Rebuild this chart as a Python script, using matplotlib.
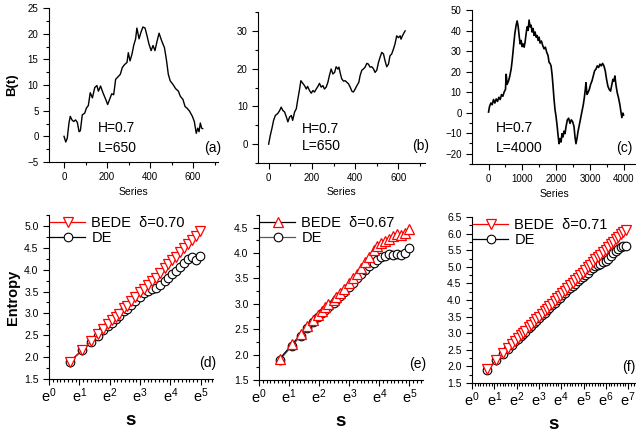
import numpy as np
import matplotlib
matplotlib.use("Agg")
import matplotlib.pyplot as plt
from matplotlib.ticker import MultipleLocator, LogLocator, FuncFormatter, NullFormatter

# ---- top row: fBm series (index, value) ----
series_a = [(0, 0.0), (8, -1.1), (15, -0.4), (23, 2.6), (29, 3.9), (37, 3.2), (45, 2.9), (54, 3.2),
            (62, 2.7), (70, 0.9), (76, 1.1), (85, 4.2), (96, 4.5), (104, 5.5), (113, 6.0), (122, 8.5),
            (132, 7.5), (143, 9.5), (153, 9.9), (160, 8.8), (170, 9.8), (181, 8.5), (194, 7.2),
            (203, 6.2), (212, 7.2), (222, 8.3), (231, 8.1), (240, 11.1), (251, 11.6), (262, 12.1),
            (271, 13.4), (282, 14.0), (293, 14.4), (299, 16.3), (307, 14.7), (316, 16.0), (324, 17.7),
            (333, 19.0), (339, 21.1), (349, 19.0), (358, 20.3), (367, 21.3), (377, 21.1), (386, 19.6),
            (395, 18.0), (405, 16.7), (414, 17.7), (423, 16.7), (432, 18.4), (442, 20.1), (451, 19.0),
            (457, 18.3), (467, 17.3), (476, 15.0), (485, 12.1), (494, 10.8), (507, 10.1), (519, 9.3),
            (532, 8.8), (541, 7.8), (553, 7.2), (563, 5.8), (572, 5.5), (584, 4.9), (597, 3.9),
            (606, 2.9), (615, 0.6), (622, 1.6), (628, 0.9), (634, 2.6), (640, 1.6), (645, 1.5)]

series_b = [(0, 0.0), (8, 2.4), (15, 4.1), (23, 6.3), (31, 7.6), (42, 8.1), (51, 8.9), (58, 9.8),
            (66, 8.9), (74, 8.5), (82, 7.2), (89, 5.9), (97, 7.2), (105, 7.6), (111, 6.3), (120, 8.5),
            (128, 9.4), (134, 11.6), (142, 14.2), (149, 16.8), (158, 16.1), (166, 15.5), (174, 14.6),
            (180, 15.3), (189, 14.2), (197, 13.5), (205, 14.2), (212, 13.8), (220, 14.6), (228, 15.3),
            (235, 16.1), (243, 15.1), (251, 15.5), (258, 14.6), (266, 15.1), (274, 16.4), (281, 18.2),
            (289, 19.9), (297, 18.6), (305, 19.0), (312, 20.5), (320, 19.9), (325, 20.4), (331, 18.8),
            (338, 17.3), (346, 16.7), (354, 16.8), (361, 16.4), (369, 16.0), (377, 15.1), (385, 14.0),
            (392, 13.8), (400, 14.6), (408, 15.5), (417, 16.4), (423, 18.2), (431, 19.6), (438, 19.9),
            (446, 20.4), (454, 21.4), (461, 21.2), (469, 20.4), (477, 20.5), (485, 19.9), (492, 19.0),
            (500, 19.6), (508, 21.7), (515, 23.0), (523, 24.3), (531, 23.9), (538, 22.1), (546, 20.5),
            (554, 21.2), (561, 23.4), (569, 23.9), (577, 25.2), (584, 26.5), (592, 28.7), (600, 28.2),
            (608, 28.7), (612, 27.8), (620, 28.9), (631, 30.0)]

series_c = [(0, 0.3), (30, 3.1), (69, 4.7), (108, 3.9), (147, 6.4), (187, 4.7), (226, 6.7), (265, 5.5),
            (305, 7.5), (344, 6.4), (383, 8.8), (423, 8.0), (462, 10.1), (501, 11.3), (521, 18.7),
            (550, 13.8), (590, 15.4), (629, 17.9), (668, 21.2), (698, 25.3), (737, 31.9), (777, 38.5),
            (816, 42.6), (845, 44.7), (875, 42.1), (904, 37.6), (934, 33.5), (963, 35.2), (993, 32.2),
            (1022, 33.5), (1052, 31.9), (1081, 34.4), (1111, 38.5), (1140, 41.8), (1170, 40.1),
            (1199, 45.1), (1229, 41.8), (1258, 42.6), (1288, 39.3), (1317, 41.0), (1347, 37.6),
            (1376, 39.3), (1406, 36.8), (1435, 37.6), (1465, 35.2), (1494, 36.8), (1524, 33.9),
            (1563, 34.9), (1602, 32.7), (1642, 31.1), (1681, 31.9), (1720, 29.4), (1760, 27.8),
            (1789, 24.5), (1819, 24.0), (1848, 22.8), (1878, 18.7), (1907, 12.9), (1937, 6.4),
            (1966, 1.4), (1996, -1.9), (2025, -6.0), (2055, -10.9), (2084, -15.1), (2114, -12.6),
            (2143, -14.3), (2173, -10.2), (2202, -11.8), (2232, -9.0), (2261, -10.2), (2291, -6.8),
            (2330, -3.5), (2369, -2.7), (2409, -5.2), (2448, -3.5), (2487, -4.4), (2527, -6.8),
            (2556, -11.8), (2585, -15.1), (2615, -12.6), (2644, -9.3), (2684, -6.0), (2723, -2.7),
            (2762, 0.6), (2802, 3.9), (2831, 7.2), (2861, 11.3), (2880, 14.6), (2910, 8.9),
            (2939, 9.7), (2979, 11.3), (3018, 13.8), (3057, 15.4), (3097, 17.9), (3136, 20.4),
            (3175, 21.2), (3215, 22.8), (3254, 22.0), (3293, 23.6), (3333, 22.8), (3372, 24.0),
            (3411, 22.8), (3451, 20.4), (3490, 16.2), (3529, 12.9), (3569, 11.3), (3608, 10.5),
            (3647, 13.8), (3677, 16.2), (3706, 15.4), (3736, 17.9), (3765, 13.8), (3805, 9.7),
            (3844, 7.2), (3883, 3.9), (3913, 0.6), (3942, -2.4), (3972, -0.2), (3991, -1.1)]

# ---- bottom row: entropy vs s ----
s_de = [2, 3, 4, 5, 6, 7, 8, 9, 10, 12, 13, 15, 17, 20, 23, 26, 30, 34, 39, 45, 51, 58, 66, 75,
        86, 98, 111, 127, 144]
d_bede = [1.90, 2.17, 2.36, 2.52, 2.65, 2.76, 2.84, 2.92, 2.99, 3.12, 3.18, 3.28, 3.37, 3.49, 3.56,
          3.64, 3.73, 3.82, 3.92, 4.04, 4.12, 4.21, 4.30, 4.40, 4.49, 4.58, 4.68, 4.77, 4.88]
d_de = [1.90, 2.16, 2.34, 2.49, 2.61, 2.71, 2.79, 2.87, 2.94, 3.05, 3.10, 3.20, 3.28, 3.38, 3.46,
        3.51, 3.55, 3.59, 3.66, 3.75, 3.82, 3.90, 3.98, 4.06, 4.15, 4.24, 4.28, 4.22, 4.31]
e_bede = [1.92, 2.20, 2.40, 2.56, 2.69, 2.79, 2.86, 2.93, 2.99, 3.07, 3.13, 3.22, 3.30, 3.41, 3.50,
          3.59, 3.70, 3.82, 3.93, 4.06, 4.14, 4.20, 4.24, 4.27, 4.33, 4.38, 4.36, 4.40, 4.47]
e_de = [1.90, 2.17, 2.37, 2.52, 2.65, 2.74, 2.81, 2.88, 2.94, 3.02, 3.07, 3.15, 3.23, 3.33, 3.42,
        3.50, 3.59, 3.67, 3.74, 3.81, 3.87, 3.92, 3.95, 3.98, 3.97, 3.99, 3.96, 4.00, 4.10]
s_f = [2, 3, 4, 5, 6, 7, 8, 9, 10, 11, 13, 14, 16, 18, 20, 23, 26, 29, 32, 36, 41, 46, 51, 57, 64,
       72, 81, 91, 102, 114, 128, 143, 160, 180, 201, 225, 252, 283, 317, 355, 397, 445, 498, 558,
       625, 700, 784, 878, 983]
f_bede = [1.92, 2.20, 2.39, 2.55, 2.67, 2.78, 2.86, 2.95, 3.02, 3.08, 3.19, 3.25, 3.34, 3.42, 3.49,
          3.59, 3.67, 3.74, 3.81, 3.89, 3.97, 4.06, 4.12, 4.20, 4.28, 4.36, 4.44, 4.52, 4.59, 4.67,
          4.75, 4.82, 4.90, 4.98, 5.06, 5.13, 5.22, 5.29, 5.36, 5.44, 5.52, 5.60, 5.68, 5.75, 5.83,
          5.91, 5.98, 6.05, 6.10]
f_de = [1.90, 2.18, 2.37, 2.53, 2.65, 2.76, 2.84, 2.92, 2.99, 3.05, 3.15, 3.21, 3.30, 3.38, 3.45,
        3.54, 3.62, 3.69, 3.76, 3.84, 3.92, 4.00, 4.07, 4.15, 4.22, 4.29, 4.36, 4.43, 4.49, 4.56,
        4.62, 4.69, 4.76, 4.82, 4.89, 4.95, 5.01, 5.05, 5.09, 5.13, 5.17, 5.24, 5.32, 5.41, 5.49,
        5.55, 5.60, 5.64, 5.62]
deltas = ["0.70", "0.67", "0.71"]

plt.rcParams["font.family"] = ["Liberation Sans", "DejaVu Sans"]
plt.rcParams["mathtext.default"] = "regular"

fig = plt.figure(figsize=(6.36, 4.34), dpi=100)


def style(ax, fs=7):
    ax.spines["top"].set_visible(False)
    ax.spines["right"].set_visible(False)
    ax.tick_params(which="both", direction="out", top=False, right=False, width=0.8, labelsize=fs)
    ax.tick_params(which="major", length=4)
    ax.tick_params(which="minor", length=2)


# top row
top = [
    ("a", series_a, [0.077, 0.6267, 0.2657, 0.3548], (-70, 716), (-5, 25), 200, 100, 5, 2.5, "L=650",
     (0.29, 0.22, 0.09), (0.92, 0.09)),
    ("b", series_b, [0.4057, 0.6244, 0.2626, 0.3479], (-49, 723), (-5, 35), 200, 100, 10, 5, "L=650",
     (0.26, 0.225, 0.11), (0.92, 0.11)),
    ("c", series_c, [0.7421, 0.6221, 0.2579, 0.3548], (-490, 4360), (-25, 50), 1000, 500, 10, 5, "L=4000",
     (0.146, 0.234, 0.104), (0.88, 0.104)),
]
for tag, ser, rect, xl, yl, xmaj, xmin, ymaj, ymin, ltxt, hpos, tpos in top:
    ax = fig.add_axes(rect)
    style(ax)
    t, v = zip(*ser)
    ax.plot(t, v, color="black", lw=1.0 if tag != "c" else 1.2)
    ax.set_xlim(*xl)
    ax.set_ylim(*yl)
    ax.xaxis.set_major_locator(MultipleLocator(xmaj))
    ax.xaxis.set_minor_locator(MultipleLocator(xmin))
    ax.yaxis.set_major_locator(MultipleLocator(ymaj))
    ax.yaxis.set_minor_locator(MultipleLocator(ymin))
    ax.set_xlabel("Series", fontsize=7.5)
    ax.xaxis.set_label_coords(0.5, -0.16)
    ax.text(hpos[0], hpos[1], "H=0.7", transform=ax.transAxes, fontsize=10, va="center")
    ax.text(hpos[0], hpos[2], ltxt, transform=ax.transAxes, fontsize=10, va="center")
    ax.text(tpos[0], tpos[1], "(%s)" % tag, transform=ax.transAxes, fontsize=10, va="center",
            clip_on=False)
    if tag == "a":
        ax.set_ylabel("B(t)", fontsize=9.5, fontweight="bold")
        ax.yaxis.set_label_coords(-0.18, 0.5)

# bottom row
bottom = [
    ("d", s_de, d_bede, d_de, [0.077, 0.1267, 0.2579, 0.3779], 5.4, (1.5, 5.25), "v", "red", "black"),
    ("e", s_de, e_bede, e_de, [0.4072, 0.1244, 0.2579, 0.3802], 5.45, (1.5, 4.75), "^", "black", "0.35"),
    ("f", s_f, f_bede, f_de, [0.7421, 0.1175, 0.2579, 0.3825], 7.35, (1.5, 6.5), "v", "red", "black"),
]
for (tag, s, bede, de, rect, xmax, yl, mk, bcol, dcol), dl in zip(bottom, deltas):
    ax = fig.add_axes(rect)
    style(ax, fs=7.5)
    h_de, = ax.plot(s, de, color=dcol, lw=0.9, marker="o", ms=6.2, mfc="white", mec="black", mew=0.8,
                    label="DE")
    h_be, = ax.plot(s, bede, color=bcol, lw=0.9, marker=mk, ms=6.8, mfc="white", mec="red", mew=0.9,
                    label="BEDE  \u03b4=" + dl)
    ax.set_xscale("log", base=np.e)
    ax.set_xlim(1, np.exp(xmax))
    ax.set_ylim(*yl)
    ax.xaxis.set_major_locator(LogLocator(base=np.e, numticks=12))
    ax.xaxis.set_major_formatter(FuncFormatter(lambda x, p: "$e^{%d}$" % round(np.log(x))))
    ax.xaxis.set_minor_locator(LogLocator(base=np.e, subs=np.exp(np.arange(1, 8) / 8.0), numticks=12))
    ax.xaxis.set_minor_formatter(NullFormatter())
    ax.tick_params(axis="x", which="major", labelsize=10.5, pad=1)
    ax.yaxis.set_major_locator(MultipleLocator(0.5))
    ax.yaxis.set_minor_locator(MultipleLocator(0.25))
    ax.yaxis.set_major_formatter(FuncFormatter(lambda y, p: "%.1f" % y))
    ax.legend(handles=[h_be, h_de], loc="upper left", frameon=False, fontsize=10.5, handlelength=2.4,
              handletextpad=0.4, labelspacing=0.05, borderaxespad=0.0, borderpad=0.1)
    ax.set_xlabel("s", fontsize=13.5, fontweight="bold")
    ax.xaxis.set_label_coords(0.5, -0.2)
    ax.text(0.915, 0.095, "(%s)" % tag, transform=ax.transAxes, fontsize=10, va="center", clip_on=False)
    if tag == "d":
        ax.set_ylabel("Entropy", fontsize=10.5, fontweight="bold")
        ax.yaxis.set_label_coords(-0.177, 0.5)

fig.savefig("out.png", dpi=100)
